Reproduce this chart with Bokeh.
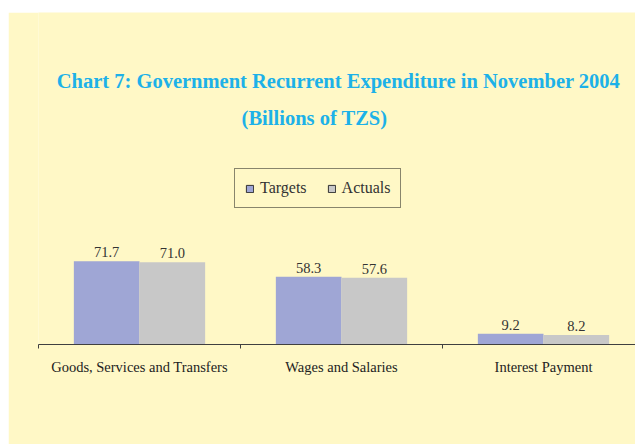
from bokeh.plotting import figure
from bokeh.models import Range1d, FixedTicker, Label, Legend, LegendItem, ColumnDataSource, Spacer
from bokeh.layouts import row, column
from bokeh.core.properties import value
from bokeh.embed import file_html
from bokeh.resources import INLINE

categories = ["Goods, Services and Transfers", "Wages and Salaries", "Interest Payment"]
targets = [71.7, 58.3, 9.2]
actuals = [71.0, 57.6, 8.2]

BG = "#FFF8C6"
TARGET_COLOR = "#9FA6D5"
ACTUAL_COLOR = "#C8C8C8"
TITLE_COLOR = "#1DB1E8"
SERIF = "Liberation Serif"

OX, OY = 8, 12          # page offset of the yellow panel
W, H = 635 - OX, 444 - OY
LEFT, BOTTOM = 30, 100
frame_w = W - LEFT
frame_h = H - BOTTOM
AXIS_Y = OY + frame_h   # page y of the x axis
cat_px = 202.0
y_px = 1.16
x_end = frame_w / cat_px
y_end = frame_h / y_px

p = figure(width=W, height=H, output_backend="svg", toolbar_location=None,
           x_range=Range1d(0, x_end), y_range=Range1d(0, y_end),
           min_border_left=LEFT, min_border_right=0, min_border_top=0,
           min_border_bottom=BOTTOM)
p.background_fill_color = BG
p.border_fill_color = BG
p.outline_line_color = None
p.grid.visible = False
p.yaxis.visible = False

n = len(categories)
bw = 0.325
centers = [i + 0.5 for i in range(n)]
src = ColumnDataSource(dict(
    xt=[c - bw / 2 for c in centers], xa=[c + bw / 2 for c in centers],
    t=targets, a=actuals,
    tl=[f"{v:.1f}" for v in targets], al=[f"{v:.1f}" for v in actuals]))

p.vbar(x="xt", top="t", width=bw, bottom=0, source=src,
       fill_color=TARGET_COLOR, line_color=None)
p.vbar(x="xa", top="a", width=bw, bottom=0, source=src,
       fill_color=ACTUAL_COLOR, line_color=None)

# legend-only proxies (squares with dark outline, not drawn in the plot)
nan = float("nan")
lt = p.quad(left=[nan], right=[nan], bottom=[nan], top=[nan],
            fill_color=TARGET_COLOR, line_color="#333333", line_width=1)
la = p.quad(left=[nan], right=[nan], bottom=[nan], top=[nan],
            fill_color=ACTUAL_COLOR, line_color="#333333", line_width=1)

for xcol, ycol, lcol in (("xt", "t", "tl"), ("xa", "a", "al")):
    p.text(x=xcol, y=ycol, text=lcol, source=src, y_offset=-4, text_align="center",
           text_baseline="bottom", text_font=value(SERIF), text_font_size="14.5px",
           text_color="#333333")

# x axis
ax = p.xaxis[0]
ax.ticker = FixedTicker(ticks=centers, minor_ticks=list(range(n + 1)))
ax.major_label_overrides = {c: lab for c, lab in zip(centers, categories)}
ax.major_tick_out = 0
ax.major_tick_in = 0
ax.minor_tick_out = 4
ax.minor_tick_in = 0
ax.minor_tick_line_color = "#404040"
ax.axis_line_color = "#404040"
ax.major_label_standoff = 10
ax.major_label_text_font = SERIF
ax.major_label_text_font_size = "14.5px"
ax.major_label_text_color = "#222222"

def dx(px):
    return (px - OX - LEFT) / cat_px

def dy(py):
    return (AXIS_Y - py) / y_px

p.add_layout(Label(x=dx(338), y=dy(80), text="Chart 7: Government Recurrent Expenditure in November 2004",
                   text_align="center", text_baseline="middle", text_font=SERIF,
                   text_font_style="bold", text_font_size="20.5px", text_color=TITLE_COLOR))
p.add_layout(Label(x=dx(314), y=dy(117), text="(Billions of TZS)",
                   text_align="center", text_baseline="middle", text_font=SERIF,
                   text_font_style="bold", text_font_size="20.5px", text_color=TITLE_COLOR))

legend = Legend(items=[LegendItem(label="Targets", renderers=[lt]),
                       LegendItem(label="Actuals", renderers=[la])],
                orientation="horizontal", location=(234 - OX - LEFT, AXIS_Y - 208),
                border_line_color="#111111", border_line_width=1.5,
                background_fill_color=BG, background_fill_alpha=1,
                label_text_font=SERIF, label_text_font_size="16px",
                label_text_color="#333333", glyph_width=9, glyph_height=9,
                label_standoff=6, spacing=20, padding=10, margin=0,
                label_height=15)
p.add_layout(legend, "center")

layout = row(Spacer(width=OX, height=H + OY),
             column(Spacer(width=W, height=OY), p, spacing=0), spacing=0)

open("out.html", "w").write(file_html(layout, INLINE))
